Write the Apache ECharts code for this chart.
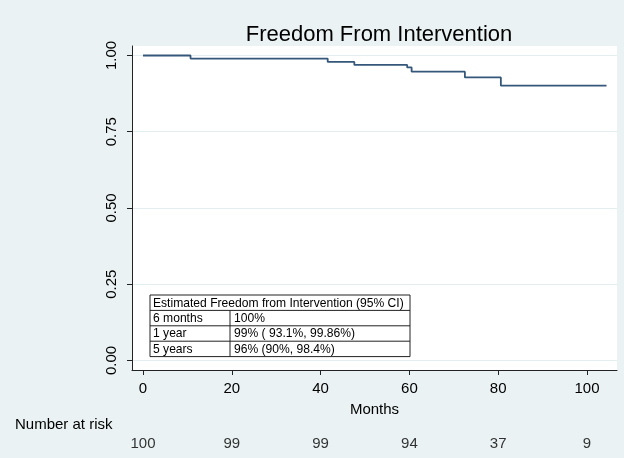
<!DOCTYPE html>
<html>
<head>
<meta charset="utf-8">
<script src="https://cdn.jsdelivr.net/npm/echarts@6/dist/echarts.min.js"></script>
<style>
  html, body { margin: 0; padding: 0; background: #eaf2f3; }
  #main { width: 624px; height: 458px; }
</style>
</head>
<body>
<div id="main"></div>
<script>
// Kaplan-Meier steps (months, survival)
var kmMonths = [0, 10.7, 41.6, 47.6, 59.5, 60.5, 72.5, 80.6, 104.4];
var kmSurv = [1.0, 0.99, 0.979, 0.969, 0.961, 0.947, 0.928, 0.901, 0.901];

var xTicks = [0, 20, 40, 60, 80, 100];
var yTicks = [0, 0.25, 0.5, 0.75, 1.0];
var atRisk = [100, 99, 99, 94, 37, 9];

var tableHeader = "Estimated Freedom from Intervention (95% CI)";
var tableLabels = ["6 months", "1 year", "5 years"];
var tableValues = ["100%", "99% ( 93.1%, 99.86%)", "96% (90%, 98.4%)"];

var font = "'Liberation Sans', Arial, Helvetica, sans-serif";
var chart = echarts.init(document.getElementById("main"));

var kmData = kmMonths.map(function (m, i) { return [m, kmSurv[i]]; });
var riskData = xTicks.map(function (m, i) { return [m, 0.5, atRisk[i]]; });

// table drawn as graphic (annotation inside plot)
var tx = 150, ty = 295, rowH = 15.4, col1 = 80, tw = 260;
var tfont = "12.1px " + font;
var tableEls = [];
tableEls.push({ type: "rect", shape: { x: tx, y: ty, width: tw, height: rowH * 4 },
  style: { fill: "#fff", stroke: "#222", lineWidth: 1 } });
tableEls.push({ type: "text", x: tx + 3, y: ty + rowH / 2 + 0.5,
  style: { text: tableHeader, font: tfont, fill: "#000", verticalAlign: "middle" } });
for (var i = 0; i < tableLabels.length; i++) {
  var ry = ty + rowH * (i + 1);
  tableEls.push({ type: "line", shape: { x1: tx, y1: ry, x2: tx + tw, y2: ry },
    style: { stroke: "#222", lineWidth: 1 } });
  tableEls.push({ type: "text", x: tx + 3, y: ry + rowH / 2 + 0.5,
    style: { text: tableLabels[i], font: tfont, fill: "#000", verticalAlign: "middle" } });
  tableEls.push({ type: "text", x: tx + col1 + 4, y: ry + rowH / 2 + 0.5,
    style: { text: tableValues[i], font: tfont, fill: "#000", verticalAlign: "middle" } });
}
tableEls.push({ type: "line", shape: { x1: tx + col1, y1: ty + rowH, x2: tx + col1, y2: ty + rowH * 4 },
  style: { stroke: "#222", lineWidth: 1 } });

var option = {
  backgroundColor: "#eaf2f3",
  animation: false,
  title: {
    text: "Freedom From Intervention",
    left: 374,
    textAlign: "center",
    top: 19,
    textStyle: { fontFamily: font, fontSize: 22, fontWeight: "normal", color: "#000" }
  },
  grid: [
    { left: 132, right: 7, top: 46, bottom: 88, show: true, backgroundColor: "#fff", borderWidth: 0 },
    { left: 132, right: 7, top: 436, height: 16 }
  ],
  xAxis: [
    {
      type: "value", gridIndex: 0, min: -2.48, max: 106.76,
      name: "Months", nameLocation: "middle", nameGap: 32,
      nameTextStyle: { fontFamily: font, fontSize: 15, color: "#000" },
      axisLine: { show: true, onZero: false, lineStyle: { color: "#222", width: 1 } },
      axisTick: { show: true, length: 5, customValues: xTicks, lineStyle: { color: "#222" } },
      axisLabel: { customValues: xTicks, fontFamily: font, fontSize: 15, color: "#000", margin: 11 },
      splitLine: { show: false }
    },
    {
      type: "value", gridIndex: 1, min: -2.48, max: 106.76, show: false
    }
  ],
  yAxis: [
    {
      type: "value", gridIndex: 0, min: -0.0311, max: 1.0311,
      axisLine: { show: true, onZero: false, lineStyle: { color: "#222", width: 1 } },
      axisTick: { show: true, length: 5, customValues: yTicks, lineStyle: { color: "#222" } },
      axisLabel: {
        customValues: yTicks, rotate: 90, fontFamily: font, fontSize: 15, color: "#000", margin: 13,
        formatter: function (v) { return v.toFixed(2); }
      },
      splitLine: { show: true, lineStyle: { color: "#e4eef1", width: 1 } }
    },
    { type: "value", gridIndex: 1, min: 0, max: 1, show: false }
  ],
  series: [
    {
      type: "line", xAxisIndex: 0, yAxisIndex: 0, step: "end",
      data: kmData, symbol: "none",
      lineStyle: { color: "#34577a", width: 1.8 }
    },
    {
      type: "scatter", xAxisIndex: 1, yAxisIndex: 1,
      data: riskData, symbolSize: 1,
      itemStyle: { color: "rgba(0,0,0,0)" },
      label: {
        show: true, position: "inside",
        formatter: function (p) { return p.value[2]; },
        fontFamily: font, fontSize: 15, color: "#000"
      }
    }
  ],
  graphic: [
    { type: "text", left: 15, top: 417,
      style: { text: "Number at risk", font: "15px " + font, fill: "#000" } },
    { type: "group", children: tableEls }
  ]
};

chart.setOption(option);
</script>
</body>
</html>
